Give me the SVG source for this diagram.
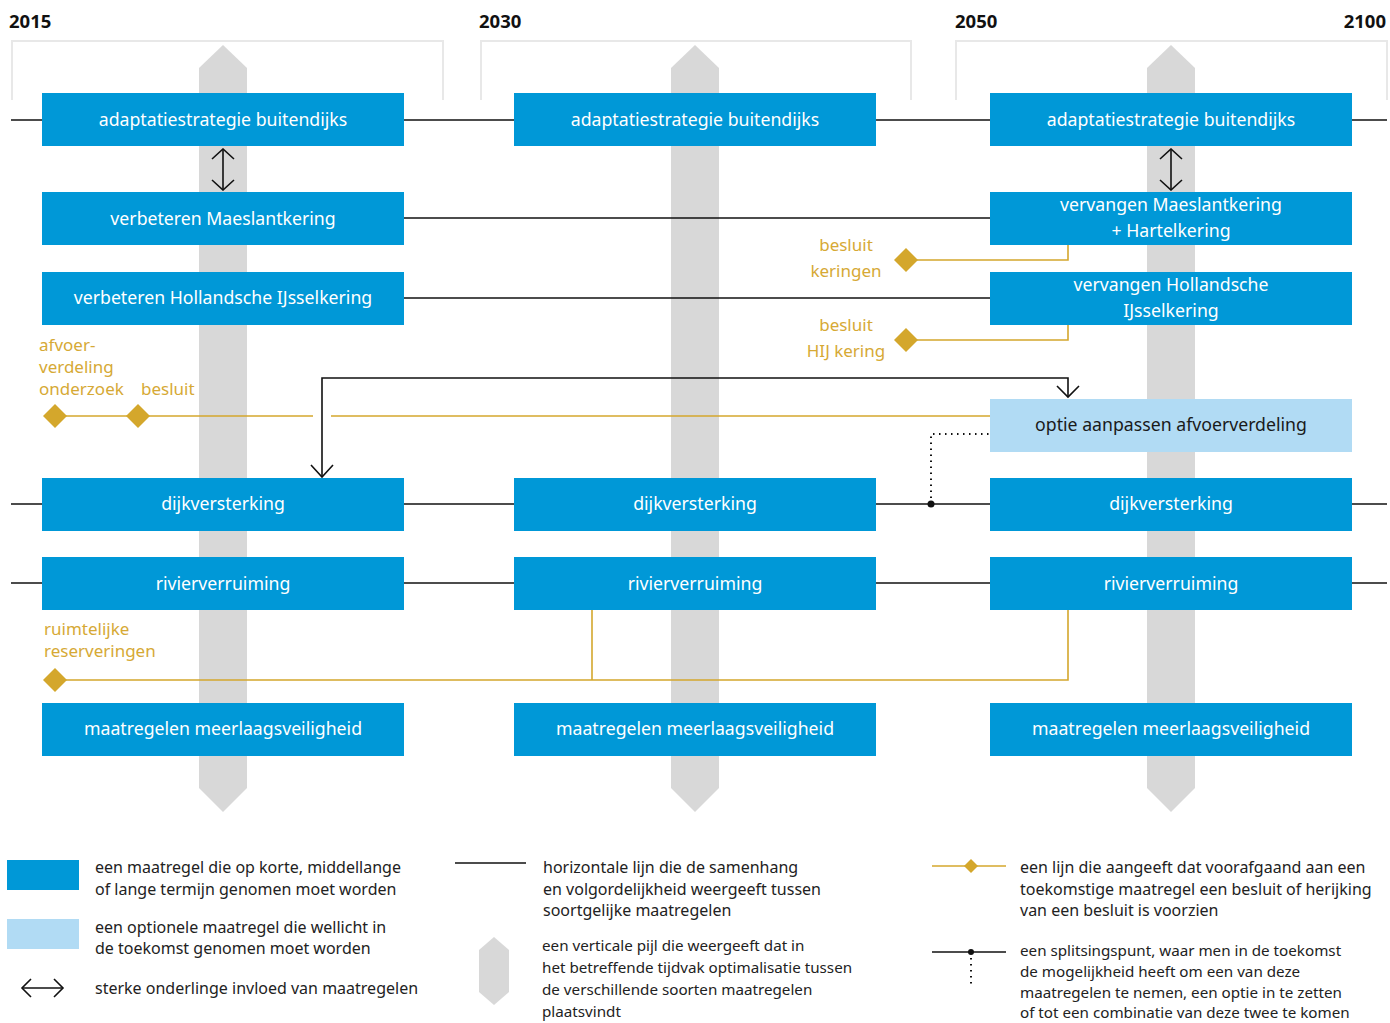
<svg xmlns="http://www.w3.org/2000/svg" width="1390" height="1023" viewBox="0 0 1390 1023">
<defs>
<style>
text{font-variant-ligatures:none;font-feature-settings:"liga" 0,"dlig" 0,"locl" 0}
.box{fill:#0098d7}
.opt{fill:#b1dbf4}
.bt{font-family:"Noto Sans","Open Sans",sans-serif;font-size:17.7px;fill:#ffffff;text-anchor:middle}
.ot{font-family:"Noto Sans","Open Sans",sans-serif;font-size:17.7px;fill:#1a1a1a;text-anchor:middle}
.gt{font-family:"Noto Sans","Open Sans",sans-serif;font-size:17px;fill:#d6a935}
.yr{font-family:"Noto Sans","Open Sans",sans-serif;font-size:18.5px;font-weight:bold;fill:#111}
.lt{font-family:"Noto Sans","Open Sans",sans-serif;font-size:16px;fill:#222}
.ls{font-family:"Noto Sans","Open Sans",sans-serif;font-size:15.2px;fill:#222}
.hex{fill:#d8d8d8}
.frame{fill:none;stroke:#e8e8e8;stroke-width:2}
.bl{stroke:#111;stroke-width:1.6;fill:none}
.gl{stroke:#d4a72c;stroke-width:1.6;fill:none}
.gd{fill:#d4a72c}
</style>
<marker id="ah2" viewBox="0 0 24 24" refX="12" refY="1" markerWidth="24" markerHeight="24" markerUnits="userSpaceOnUse" orient="0">
<path d="M1 11 L12 1 L23 11" fill="none" stroke="#111" stroke-width="1.6"/>
</marker>
<marker id="ah3" viewBox="0 0 24 24" refX="12" refY="23" markerWidth="24" markerHeight="24" markerUnits="userSpaceOnUse" orient="0">
<path d="M1 13 L12 23 L23 13" fill="none" stroke="#111" stroke-width="1.6"/>
</marker>
</defs>
<rect width="1390" height="1023" fill="#ffffff"/>

<g id="years">
<text class="yr" x="9" y="28">2015</text>
<text class="yr" x="479" y="28">2030</text>
<text class="yr" x="955" y="28">2050</text>
<text class="yr" x="1386" y="28" text-anchor="end">2100</text>
</g>

<g id="frames">
<path class="frame" d="M12 100 V41 H443 V100"/>
<path class="frame" d="M481 100 V41 H911 V100"/>
<path class="frame" d="M956 100 V41 H1387 V100"/>
</g>

<g id="optimisation-arrows">
<polygon class="hex" points="223,45 247,68 247,788 223,812 199,788 199,68"/>
<polygon class="hex" points="695,45 719,68 719,788 695,812 671,788 671,68"/>
<polygon class="hex" points="1171,45 1195,68 1195,788 1171,812 1147,788 1147,68"/>
</g>

<g id="connectors">
<line class="bl" x1="11" y1="120" x2="1387" y2="120"/>
<line class="bl" x1="404" y1="218" x2="990" y2="218"/>
<line class="bl" x1="404" y1="298" x2="990" y2="298"/>
<line class="bl" x1="11" y1="504" x2="1387" y2="504"/>
<line class="bl" x1="11" y1="583" x2="1387" y2="583"/>
<line class="bl" x1="223" y1="149" x2="223" y2="190" marker-start="url(#ah2)" marker-end="url(#ah3)"/>
<line class="bl" x1="1171" y1="149" x2="1171" y2="190" marker-start="url(#ah2)" marker-end="url(#ah3)"/>
<path class="bl" d="M322 477 V378 H1068 V397"/>
<path d="M311 465 L322 477 L333 465" class="bl"/>
<path d="M1057 386 L1068 397 L1079 386" class="bl"/>
<path d="M931 504 V434 H990" fill="none" stroke="#111" stroke-width="2" stroke-dasharray="1.5 4.5"/>
<circle cx="931" cy="504" r="3.5" fill="#111"/>
<path class="gl" d="M906 260 H1068 V245"/>
<path class="gl" d="M906 340 H1068 V325"/>
<line class="gl" x1="55" y1="416" x2="313" y2="416"/>
<line class="gl" x1="331" y1="416" x2="990" y2="416"/>
<path class="gl" d="M55 680 H1068 V610"/>
<line class="gl" x1="592" y1="610" x2="592" y2="680"/>
<polygon class="gd" points="906,248 918,260 906,272 894,260"/>
<polygon class="gd" points="906,328 918,340 906,352 894,340"/>
<polygon class="gd" points="55,404 67,416 55,428 43,416"/>
<polygon class="gd" points="138,404 150,416 138,428 126,416"/>
<polygon class="gd" points="55,668 67,680 55,692 43,680"/>
</g>

<g id="n-adapt-2015"><rect class="box" x="42" y="93" width="362" height="53"/><text class="bt" x="223" y="126">adaptatiestrategie buitendijks</text></g>
<g id="n-adapt-2030"><rect class="box" x="514" y="93" width="362" height="53"/><text class="bt" x="695" y="126">adaptatiestrategie buitendijks</text></g>
<g id="n-adapt-2050"><rect class="box" x="990" y="93" width="362" height="53"/><text class="bt" x="1171" y="126">adaptatiestrategie buitendijks</text></g>
<g id="n-maeslant"><rect class="box" x="42" y="192" width="362" height="53"/><text class="bt" x="223" y="225">verbeteren Maeslantkering</text></g>
<g id="n-vervangen-maeslant"><rect class="box" x="990" y="192" width="362" height="53"/><text class="bt" x="1171" y="211">vervangen Maeslantkering</text><text class="bt" x="1171" y="237">+ Hartelkering</text></g>
<g id="n-hij"><rect class="box" x="42" y="272" width="362" height="53"/><text class="bt" x="223" y="304">verbeteren Hollandsche IJsselkering</text></g>
<g id="n-vervangen-hij"><rect class="box" x="990" y="272" width="362" height="53"/><text class="bt" x="1171" y="291">vervangen Hollandsche</text><text class="bt" x="1171" y="317">IJsselkering</text></g>
<g id="n-optie"><rect class="opt" x="990" y="399" width="362" height="53"/><text class="ot" x="1171" y="431">optie aanpassen afvoerverdeling</text></g>
<g id="n-dijk-2015"><rect class="box" x="42" y="478" width="362" height="53"/><text class="bt" x="223" y="510">dijkversterking</text></g>
<g id="n-dijk-2030"><rect class="box" x="514" y="478" width="362" height="53"/><text class="bt" x="695" y="510">dijkversterking</text></g>
<g id="n-dijk-2050"><rect class="box" x="990" y="478" width="362" height="53"/><text class="bt" x="1171" y="510">dijkversterking</text></g>
<g id="n-rivier-2015"><rect class="box" x="42" y="557" width="362" height="53"/><text class="bt" x="223" y="590">rivierverruiming</text></g>
<g id="n-rivier-2030"><rect class="box" x="514" y="557" width="362" height="53"/><text class="bt" x="695" y="590">rivierverruiming</text></g>
<g id="n-rivier-2050"><rect class="box" x="990" y="557" width="362" height="53"/><text class="bt" x="1171" y="590">rivierverruiming</text></g>
<g id="n-mlv-2015"><rect class="box" x="42" y="703" width="362" height="53"/><text class="bt" x="223" y="735">maatregelen meerlaagsveiligheid</text></g>
<g id="n-mlv-2030"><rect class="box" x="514" y="703" width="362" height="53"/><text class="bt" x="695" y="735">maatregelen meerlaagsveiligheid</text></g>
<g id="n-mlv-2050"><rect class="box" x="990" y="703" width="362" height="53"/><text class="bt" x="1171" y="735">maatregelen meerlaagsveiligheid</text></g>

<g id="decision-labels">
<text class="gt" x="846" y="251" text-anchor="middle">besluit</text>
<text class="gt" x="846" y="277" text-anchor="middle">keringen</text>
<text class="gt" x="846" y="331" text-anchor="middle">besluit</text>
<text class="gt" x="846" y="357" text-anchor="middle">HIJ kering</text>
<text class="gt" x="39" y="351">afvoer-</text>
<text class="gt" x="39" y="373">verdeling</text>
<text class="gt" x="39" y="395">onderzoek</text>
<text class="gt" x="141" y="395">besluit</text>
<text class="gt" x="44" y="635">ruimtelijke</text>
<text class="gt" x="44" y="657">reserveringen</text>
</g>

<g id="legend">
<rect class="box" x="7" y="860" width="72" height="30"/>
<text class="lt" x="95" y="873">een maatregel die op korte, middellange</text>
<text class="lt" x="95" y="895">of lange termijn genomen moet worden</text>
<rect class="opt" x="7" y="919" width="72" height="30"/>
<text class="lt" x="95" y="933">een optionele maatregel die wellicht in</text>
<text class="lt" x="95" y="954">de toekomst genomen moet worden</text>
<line class="bl" x1="22" y1="988" x2="63" y2="988"/>
<path class="bl" d="M31 979 L22 988 L31 997 M54 979 L63 988 L54 997"/>
<text class="lt" x="95" y="994">sterke onderlinge invloed van maatregelen</text>

<line class="bl" x1="455" y1="863" x2="526" y2="863"/>
<text class="lt" x="543" y="873">horizontale lijn die de samenhang</text>
<text class="lt" x="543" y="895">en volgordelijkheid weergeeft tussen</text>
<text class="lt" x="543" y="916">soortgelijke maatregelen</text>
<polygon class="hex" points="494,937 509,950 509,992 494,1005 479,992 479,950"/>
<text class="ls" x="542" y="951">een verticale pijl die weergeeft dat in</text>
<text class="ls" x="542" y="973">het betreffende tijdvak optimalisatie tussen</text>
<text class="ls" x="542" y="995">de verschillende soorten maatregelen</text>
<text class="ls" x="542" y="1017">plaatsvindt</text>

<line class="gl" x1="932" y1="866" x2="1006" y2="866"/>
<polygon class="gd" points="971,859 978,866 971,873 964,866"/>
<text class="lt" x="1020" y="873">een lijn die aangeeft dat voorafgaand aan een</text>
<text class="lt" x="1020" y="895">toekomstige maatregel een besluit of herijking</text>
<text class="lt" x="1020" y="916">van een besluit is voorzien</text>
<line class="bl" x1="932" y1="952" x2="1006" y2="952"/>
<circle cx="971" cy="952" r="3" fill="#111"/>
<line x1="971" y1="958" x2="971" y2="988" stroke="#111" stroke-width="2" stroke-dasharray="1.5 4.5"/>
<text class="ls" x="1020" y="956">een splitsingspunt, waar men in de toekomst</text>
<text class="ls" x="1020" y="977">de mogelijkheid heeft om een van deze</text>
<text class="ls" x="1020" y="997.5">maatregelen te nemen, een optie in te zetten</text>
<text class="ls" x="1020" y="1018">of tot een combinatie van deze twee te komen</text>
</g>
</svg>
